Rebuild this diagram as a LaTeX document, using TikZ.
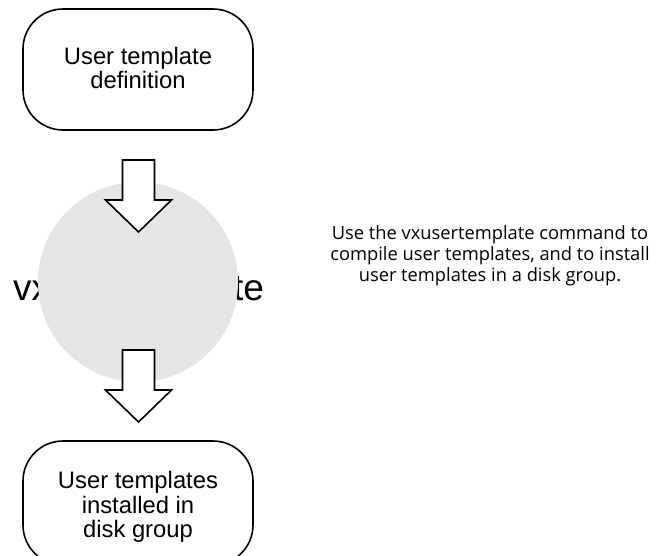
\documentclass[tikz,border=0pt]{standalone}
\usepackage{fontspec}
\usetikzlibrary{calc}
\setmainfont{Liberation Sans}
\newfontfamily\notefont{Open Sans}
\definecolor{discgray}{RGB}{229,229,229}
\begin{document}
\begin{tikzpicture}[x=1pt,y=-1pt,
  termbox/.style={draw=black,line width=1.6pt,rounded corners=40pt,fill=white},
  boxtext/.style={align=center,font=\fontsize{23.8}{24.5}\selectfont,inner sep=0pt},
  blockarrow/.style={draw=black,line width=1.6pt,fill=white,line join=miter},
  notetext/.style={align=center,font=\notefont\fontsize{18.3}{21}\selectfont,inner sep=0pt}]
\useasboundingbox (0,0) rectangle (667,555);
% command name behind the disc
\node[anchor=base,inner sep=0pt,font=\fontsize{37}{40}\selectfont] (cmd) at (138.5,300) {vxusertemplate};
% disc
\fill[discgray] (138,282) circle[radius=100];
% top terminal
\draw[termbox] (23,9) rectangle (253,130);
\node[boxtext] (top) at (138,68) {User template\\definition};
% bottom terminal
\draw[termbox] (23,441) rectangle (253,565);
\node[boxtext] (bot) at (138,507) {User templates\\installed in\\disk group};
% block arrows
\coordinate (a1) at (138.5,160);
\coordinate (a2) at (138.5,350);
\foreach \c in {a1,a2}{
  \draw[blockarrow] ($(\c)+(-16,0)$) -- ($(\c)+(16,0)$) -- ($(\c)+(16,40)$)
    -- ($(\c)+(33,40)$) -- ($(\c)+(0,72)$) -- ($(\c)+(-33,40)$)
    -- ($(\c)+(-16,40)$) -- cycle;
}
% note
\node[notetext] (note) at (490,256) {Use the vxusertemplate command to\\compile user templates, and to install\\user templates in a disk group.};
\end{tikzpicture}
\end{document}
